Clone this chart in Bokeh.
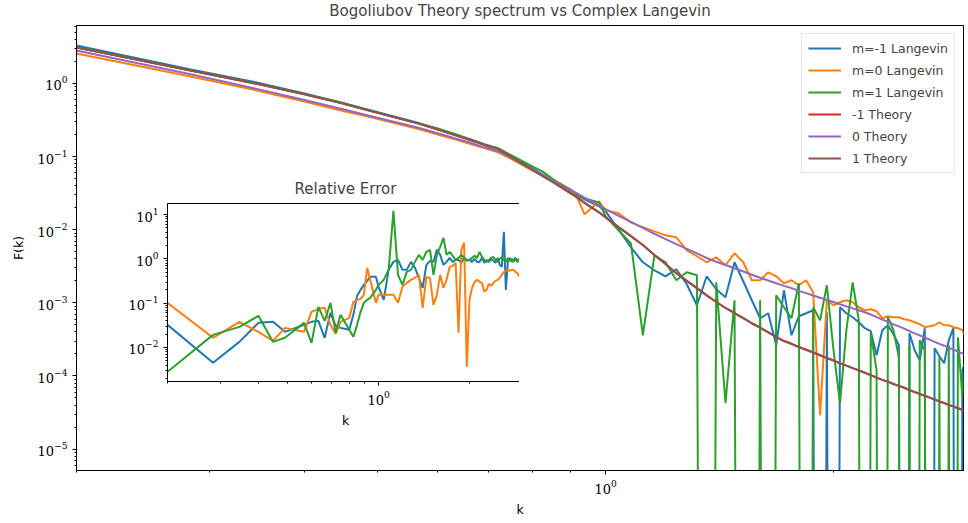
from bokeh.plotting import figure
from bokeh.layouts import column
from bokeh.models import Range1d, FixedTicker, LogTickFormatter
from bokeh.embed import file_html
from bokeh.resources import INLINE

# ---------------- data ----------------
k = [0.2, 0.283, 0.346, 0.4, 0.447, 0.49, 0.566, 0.6, 0.632, 0.663,
     0.693, 0.721, 0.748, 0.8, 0.825, 0.849, 0.872, 0.894, 0.917, 0.938,
     0.98, 1.0, 1.04, 1.08, 1.12, 1.16, 1.2, 1.24, 1.28, 1.32,
     1.36, 1.4, 1.44, 1.48, 1.52, 1.56, 1.6, 1.64, 1.68, 1.72,
     1.76, 1.8, 1.84, 1.88, 1.92, 1.96, 2.0, 2.04, 2.08, 2.12,
     2.16, 2.2, 2.24, 2.28, 2.32, 2.36, 2.4, 2.44, 2.48, 2.52,
     2.56, 2.6, 2.64, 2.68, 2.72, 2.76, 2.8, 2.84, 2.88, 2.92,
     2.96, 3.0]

# log10 F(k); None = non-positive sample (clipped on the log axis)
log_F_theory_pm1 = [0.492, 0.178, -0.005, -0.149, -0.269, -0.378, -0.549, -0.631, -0.706, -0.773,
                    -0.844, -0.898, -0.996, -1.183, -1.265, -1.339, -1.413, -1.485, -1.559, -1.633,
                    -1.762, -1.831, -1.964, -2.087, -2.210, -2.346, -2.470, -2.594, -2.699, -2.799,
                    -2.898, -2.988, -3.070, -3.139, -3.209, -3.279, -3.340, -3.403, -3.464, -3.522,
                    -3.560, -3.604, -3.642, -3.679, -3.717, -3.755, -3.788, -3.827, -3.859, -3.892,
                    -3.923, -3.956, -3.989, -4.022, -4.053, -4.078, -4.109, -4.135, -4.161, -4.193,
                    -4.219, -4.245, -4.270, -4.296, -4.322, -4.348, -4.369, -4.395, -4.415, -4.441,
                    -4.462, -4.488]
log_F_theory_0 = [0.451, 0.126, -0.074, -0.227, -0.347, -0.448, -0.605, -0.680, -0.750, -0.811,
                  -0.877, -0.926, -1.011, -1.176, -1.251, -1.318, -1.387, -1.445, -1.504, -1.563,
                  -1.667, -1.719, -1.810, -1.892, -1.974, -2.056, -2.128, -2.198, -2.261, -2.324,
                  -2.387, -2.439, -2.482, -2.527, -2.572, -2.616, -2.657, -2.695, -2.732, -2.768,
                  -2.799, -2.836, -2.867, -2.899, -2.930, -2.962, -2.989, -3.020, -3.048, -3.075,
                  -3.101, -3.128, -3.160, -3.194, -3.230, -3.258, -3.294, -3.322, -3.352, -3.387,
                  -3.417, -3.445, -3.474, -3.504, -3.533, -3.561, -3.586, -3.615, -3.638, -3.668,
                  -3.691, -3.720]
log_F_lang_m_minus1 = [0.519, 0.191, 0.014, -0.137, -0.260, -0.369, -0.540, -0.622, -0.697, -0.765,
                       -0.833, -0.888, -0.984, -1.161, -1.243, -1.325, -1.393, -1.462, -1.530, -1.585,
                       -1.680, -1.749, -1.995, -2.240, -2.445, -2.555, -2.637, -2.541, -2.746, -3.033,
                       -2.637, -2.814, -2.923, -2.445, -2.705, -2.964, -3.210, -3.142, -3.579, -2.828,
                       -3.443, -3.183, -3.142, -3.101, None, -3.128, None, -3.060, -3.142, -3.197,
                       -3.265, -3.347, -3.388, -3.716, -3.374, -3.306, -3.429, -3.579, None, -3.415,
                       -3.648, -3.784, -3.347, None, -3.620, -3.730, -3.825, -3.511, -3.347, None,
                       -3.921, -3.743]
log_F_lang_m0 = [0.410, 0.096, -0.096, -0.246, -0.369, -0.464, -0.622, -0.697, -0.765, -0.827,
                 -0.888, -0.943, -1.025, -1.189, -1.257, -1.325, -1.366, -1.448, -1.557, -1.790,
                 -1.612, -1.735, -1.776, -1.899, -1.967, -2.022, -2.077, -2.104, -2.281, -2.363,
                 -2.445, -2.377, -2.486, -2.322, -2.445, -2.691, -2.691, -2.582, -2.637, -2.732,
                 -2.691, -2.760, -2.691, -2.855, -4.536, -2.964, -3.033, -2.992, -2.964, -2.992,
                 -3.060, -3.101, -3.087, -3.115, -3.210, -3.183, -3.197, -3.197, -3.224, -3.238,
                 -3.265, -3.292, -3.333, -3.320, -3.306, -3.265, -3.306, -3.306, -3.333, -3.347,
                 -3.374, -3.511]
log_F_lang_m1 = [0.499, 0.178, 0.000, -0.143, -0.260, -0.376, -0.546, -0.615, -0.690, -0.765,
                 -0.840, -0.885, -0.975, -1.134, -1.202, -1.298, -1.380, -1.434, -1.516, -1.571,
                 -1.626, -1.817, -2.008, -2.186, -3.443, -2.350, -2.445, -2.691, -2.582, -2.623,
                 None, -2.719, -4.372, -2.964, None, None, -2.964, None, -2.896, -3.060,
                 -3.210, -2.732, None, -3.060, -3.238, -2.760, -3.648, -4.372, -3.374, -2.719,
                 -3.238, None, -3.415, -3.921, None, -3.197, -3.374, -3.743, None, -3.579,
                 None, -3.511, -3.648, None, None, -3.743, None, -3.579, None, -3.470,
                 -4.290, -3.579]

# log10 relative error (inset)
log_err_m_minus1 = [-1.490, -2.348, -1.874, -1.445, -1.422, -1.648, -1.490, -1.422, -1.400, -1.783,
                    -1.219, -1.512, -1.558, -1.603, -1.264, -0.835, -0.700, -0.587, -0.497, -0.406,
                    -0.406, -0.632, -0.926, -0.248, -0.068, -0.023, -0.248, -0.248, -0.068, -0.203,
                    -0.429, -0.655, -0.135, -0.045, -0.068, 0.203, 0.090, -0.135, -0.068, 0.023,
                    -0.068, -0.023, -0.023, -0.090, 0.023, -0.045, -0.023, -0.068, 0.000, -0.068,
                    -0.068, 0.023, -0.090, -0.023, -0.068, 0.000, -0.045, -0.090, 0.023, -0.135,
                    -0.181, 0.609, -0.700, -0.068, 0.023, -0.068, -0.023, 0.023, -0.068, 0.000,
                    -0.068, 0.023]
log_err_m0 = [-0.993, -1.783, -1.422, -1.648, -1.851, -1.558, -1.648, -1.196, -1.129, -1.106,
              -1.490, -1.693, -1.422, -1.332, -0.971, -0.926, -0.903, -0.813, -0.203, -0.474,
              -0.993, -0.813, -0.813, -0.813, -0.813, -0.993, -0.632, -0.542, -0.474, -0.429,
              -0.361, -1.106, -0.406, -0.429, -1.038, -0.813, -0.361, -0.655, -0.474, -0.181,
              -0.158, -0.090, -1.670, 0.203, 0.361, -2.438, -0.926, -0.655, -0.519, -0.474,
              -0.519, -0.542, -0.745, -0.700, -0.564, -0.609, -0.542, -0.497, -0.474, -0.429,
              -0.361, -0.293, -0.271, -0.248, -0.271, -0.248, -0.248, -0.293, -0.316, -0.384,
              -0.429, -0.293]
log_err_m1 = [-2.551, -1.716, -1.535, -1.287, -1.874, -1.783, -1.445, -1.896, -1.084, -1.400,
              -0.993, -1.670, -1.264, -1.603, -1.761, -1.490, -1.196, -0.993, -0.926, -0.880,
              -0.700, -0.587, -0.474, -0.248, 1.084, -0.361, -0.587, -0.293, -0.248, -0.068,
              0.090, -0.023, 0.158, 0.203, -0.361, 0.090, 0.271, 0.474, 0.090, 0.158,
              0.068, -0.023, 0.023, 0.090, 0.023, -0.023, -0.023, 0.023, 0.068, 0.023,
              0.158, 0.045, -0.023, -0.068, -0.023, 0.023, 0.045, -0.023, -0.068, 0.000,
              0.045, -0.023, -0.068, 0.023, -0.045, 0.000, -0.068, 0.023, -0.068, -0.023,
              -0.090, 0.000]

labels_main = ["m=-1 Langevin", "m=0 Langevin", "m=1 Langevin", "-1 Theory", "0 Theory", "1 Theory"]

for arr in (log_F_theory_pm1, log_F_theory_0, log_F_lang_m_minus1, log_F_lang_m0, log_F_lang_m1,
            log_err_m_minus1, log_err_m0, log_err_m1):
    assert len(arr) == len(k), len(arr)


def from_log(vals):
    # non-positive samples are clipped far below the axis, as matplotlib does
    return [10.0 ** v if v is not None else 1e-30 for v in vals]


C_BLUE, C_ORANGE, C_GREEN = "#1f77b4", "#ff7f0e", "#2ca02c"
C_RED, C_PURPLE, C_BROWN = "#d62728", "#9467bd", "#8c564b"
FONT = "DejaVu Sans"
MATH_FONT = "DejaVu Serif"
LW = 2


def style(fig, xminor, yminor, yticks):
    fig.grid.visible = False
    fig.outline_line_color = "black"
    fig.outline_line_width = 1
    fig.xaxis.ticker = FixedTicker(ticks=[1.0], minor_ticks=xminor)
    fig.yaxis.ticker = FixedTicker(ticks=yticks, minor_ticks=yminor)
    fig.xaxis.formatter = LogTickFormatter()
    fig.yaxis.formatter = LogTickFormatter()
    for ax in (fig.xaxis[0], fig.yaxis[0]):
        ax.major_tick_in = 0
        ax.major_tick_out = 4
        ax.minor_tick_in = 0
        ax.minor_tick_out = 2
        ax.axis_line_color = "black"
        ax.major_tick_line_color = "black"
        ax.minor_tick_line_color = "black"
        ax.major_label_text_font = MATH_FONT
        ax.major_label_text_font_size = "13px"
        ax.major_label_text_color = "black"
        ax.axis_label_text_font = FONT
        ax.axis_label_text_font_style = "normal"
        ax.axis_label_text_font_size = "12.5px"
        ax.axis_label_text_color = "black"
    fig.title.text_font = FONT
    fig.title.text_font_size = "15px"
    fig.title.text_font_style = "normal"
    fig.title.align = "center"


x_minor = [0.2, 0.3, 0.4, 0.5, 0.6, 0.7, 0.8, 0.9, 2.0, 3.0]

# ---------------- main plot ----------------
# figure is 5px taller and shifted up by 5px so the title can sit higher
p = figure(width=968, height=528, x_axis_type="log", y_axis_type="log",
           x_range=Range1d(0.2, 2.97), y_range=Range1d(5.1e-6, 6.2),
           title="Bogoliubov Theory spectrum vs Complex Langevin",
           output_backend="svg", toolbar_location=None,
           min_border_left=76, min_border_right=0, min_border_top=30, min_border_bottom=53)
y_minor_main = [m * 10.0 ** e for e in range(-6, 1) for m in range(2, 10)]
style(p, x_minor, y_minor_main, [1e-5, 1e-4, 1e-3, 1e-2, 1e-1, 1.0])
p.title.vertical_align = "top"
p.title.standoff = 8
p.xaxis.axis_label = "k"
p.yaxis.axis_label = "F(k)"
p.yaxis.axis_label_standoff = 9
p.margin = (-5, 0, 0, 0)

series_main = [
    (log_F_lang_m_minus1, C_BLUE),
    (log_F_lang_m0, C_ORANGE),
    (log_F_lang_m1, C_GREEN),
    (log_F_theory_pm1, C_RED),
    (log_F_theory_0, C_PURPLE),
    (log_F_theory_pm1, C_BROWN),
]
for (vals, col), lab in zip(series_main, labels_main):
    p.line(k, from_log(vals), line_color=col, line_width=LW, legend_label=lab)

lg = p.legend[0]
lg.location = "top_right"
lg.margin = 8
lg.padding = 6
lg.spacing = 6
lg.glyph_width = 33
lg.glyph_height = 16
lg.label_height = 16
lg.label_standoff = 11
lg.label_text_font = FONT
lg.label_text_font_size = "12.5px"
lg.border_line_color = "#cccccc"
lg.border_line_width = 1
lg.background_fill_alpha = 0.8

# ---------------- inset ----------------
inset = figure(frame_width=356, frame_height=178, x_axis_type="log", y_axis_type="log",
               x_range=Range1d(0.2, 3.02), y_range=Range1d(1.7e-3, 17.8),
               title="Relative Error", output_backend="svg", toolbar_location=None,
               min_border_left=67, min_border_right=5, min_border_top=33, min_border_bottom=50)
y_minor_inset = [m * 10.0 ** e for e in range(-3, 2) for m in range(2, 10)]
style(inset, x_minor, y_minor_inset, [1e-2, 1e-1, 1.0, 10.0])
inset.title.standoff = 12
inset.xaxis.axis_label = "k"
inset.border_fill_alpha = 0.0
inset.background_fill_color = "white"
for vals, col in ((log_err_m_minus1, C_BLUE), (log_err_m0, C_ORANGE), (log_err_m1, C_GREEN)):
    inset.line(k, from_log(vals), line_color=col, line_width=LW)

inset.margin = (-353, 0, 0, 91)

layout = column(p, inset)
open("out.html", "w").write(file_html(layout, INLINE))
